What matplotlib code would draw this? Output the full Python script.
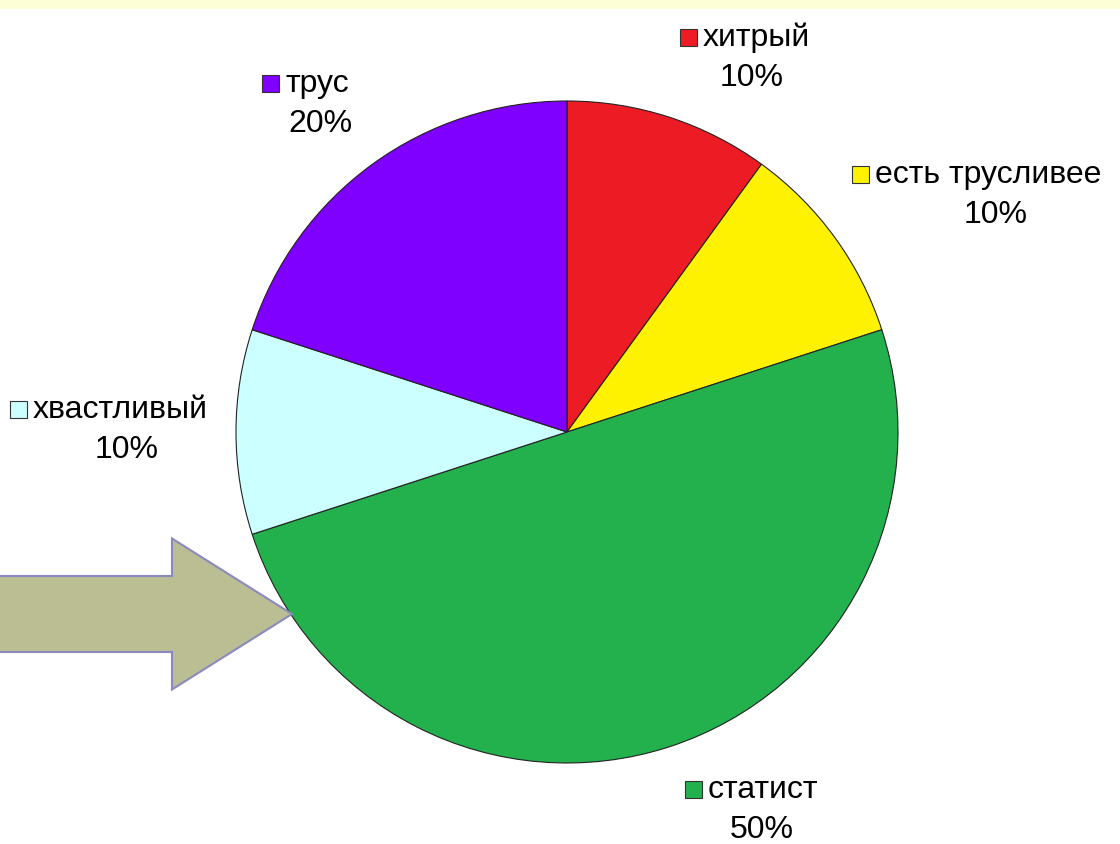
import matplotlib.pyplot as plt
from matplotlib.patches import Rectangle, FancyArrow

plt.rcParams['font.family'] = ['Liberation Sans', 'DejaVu Sans']

# Data: slices clockwise from the top
names = ['хитрый', 'есть трусливее', 'статист', 'хвастливый', 'трус']
shares = [10, 10, 50, 10, 20]
colors = ['#ED1C24', '#FFF200', '#22B14C', '#CCFFFF', '#8000FF']

# label placement (pixel coords, y down): left edge of square, centre y of name line
label_pos = [(680, 38), (852, 175), (685, 790), (10, 410), (262, 84)]
pct_centre_x = [752, 996, 762, 127, 320]

W, H = 1120, 845
fig = plt.figure(figsize=(W / 100, H / 100), dpi=100)
ax = fig.add_axes([0, 0, 1, 1])

# y axis inverted below, so counterclock=True from -90 reads clockwise from the top
wedges, _ = ax.pie(shares, colors=colors, startangle=-90, counterclock=True,
                   center=(567, 433), radius=331,
                   wedgeprops=dict(edgecolor='#222222', linewidth=0.8))

ax.set_xlim(0, W)
ax.set_ylim(H, 0)
ax.axis('off')

# pale band at the top
ax.add_patch(Rectangle((0, 0), W, 10, facecolor='#FDFDD6', edgecolor='none'))

# arrow pointing at the big slice
ax.add_patch(FancyArrow(-5, 615, 297, 0, width=76, head_width=151, head_length=120,
                        length_includes_head=True, facecolor='#BBBD92',
                        edgecolor='#8A8AC0', linewidth=1.5))

sq = 17
for name, share, col, (x, y), px in zip(names, shares, colors, label_pos, pct_centre_x):
    ax.add_patch(Rectangle((x, y - sq / 2), sq, sq, facecolor=col,
                           edgecolor='#333333', linewidth=0.8))
    ax.text(x + sq + 6, y, name, fontsize=23, va='center', ha='left', color='black')
    ax.text(px, y + 40, f'{share}%', fontsize=23, va='center', ha='center', color='black')

fig.savefig('out.png', dpi=100)
